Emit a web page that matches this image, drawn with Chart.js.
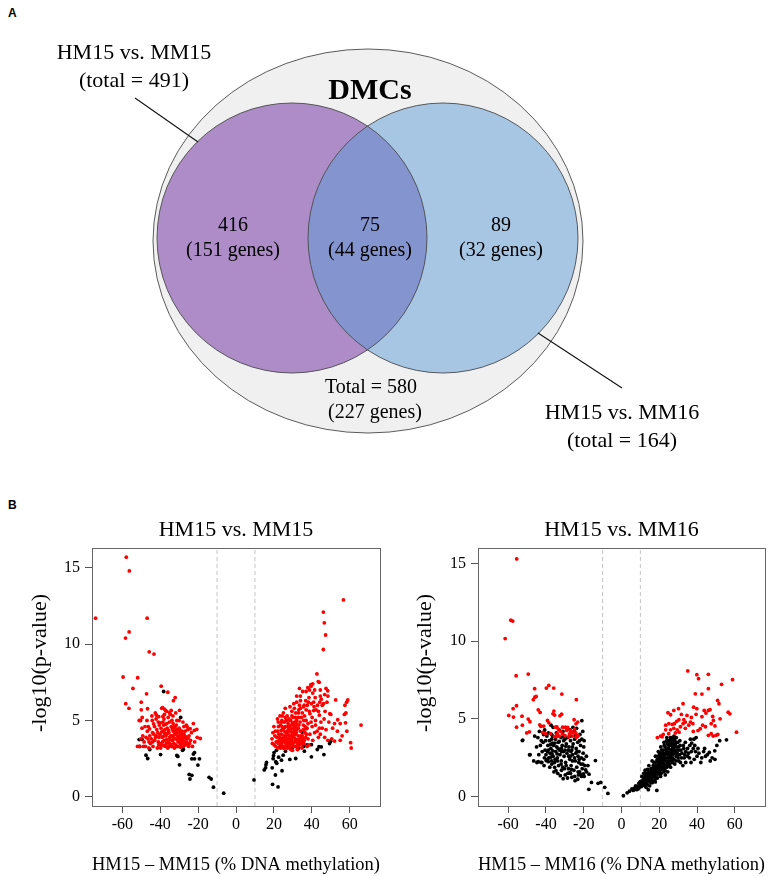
<!DOCTYPE html>
<html>
<head>
<meta charset="utf-8">
<script src="https://cdn.jsdelivr.net/npm/chart.js@4.4.1/dist/chart.umd.min.js"></script>
<style>
  html, body { margin: 0; padding: 0; background: #ffffff; }
  #wrap { position: relative; width: 770px; height: 876px; overflow: hidden; background: #fff; }
  canvas { position: absolute; }
  .panel { position: absolute; font-family: 'Liberation Sans', Arial, sans-serif; font-weight: bold; font-size: 12px; color: #000; }
</style>
</head>
<body>
<div id="wrap">
  <div class="panel" style="left:8px; top:6px;">A</div>
  <div class="panel" style="left:8px; top:498px;">B</div>
  <canvas id="venn" width="770" height="500" style="left:0; top:0;"></canvas>
  <canvas id="left" width="385" height="371" style="left:0; top:505px;"></canvas>
  <canvas id="right" width="385" height="371" style="left:385px; top:505px;"></canvas>
</div>
<script>
// ---------------- DATA ----------------
const vennTitle = 'DMCs';
const vennSetNames = ['HM15 vs. MM15', 'HM15 vs. MM16'];
const vennSetTotals = [491, 164];
const vennRegionCounts = [416, 75, 89];
const vennRegionGenes = [151, 44, 32];
const vennUnionTotal = 580;
const vennUnionGenes = 227;

const plotTitles = ['HM15 vs. MM15', 'HM15 vs. MM16'];
const xAxisLabels = ['HM15 \u2013 MM15 (% DNA methylation)', 'HM15 \u2013 MM16 (% DNA methylation)'];
const yAxisLabel = '-log10(p-value)';
const xTicks = [-60, -40, -20, 0, 20, 40, 60];
const yTicks = [0, 5, 10, 15];
const thresholds = [-10, 10];

// HM15 vs. MM15 : significant (red) points [diff, -log10 p]
const mm15Sig = [
[-74.1,11.7],[-57.9,15.7],[-56.3,14.8],[-56.4,10.8],[-58.3,10.4],[-46.9,11.7],[-45.8,9.5],[-43.3,9.35],[-59.6,7.85],[-51.9,7.8],
[-54.4,7.1],[-39.5,7.25],[-36.0,6.85],[-47.2,6.75],[-58.2,6.1],[-56.5,5.8],[-32.1,6.5],[-33.0,6.3],[-50.0,6.2],
[-50.0,5.7],[-46.7,5.77],[-37.7,5.75],[-37.2,5.65],[-42.6,5.5],[-42.0,5.35],[-44.4,5.3],[-38.6,5.27],[-38.6,4.9],[-34.2,5.66],[-29.8,5.67],
[-34.7,5.4],[-51.1,5.0],[-50.4,5.0],[-46.3,4.6],[-45.6,4.45],[-49.6,4.5],[-43.5,4.78],[-40.0,4.85],[-38.2,4.7],[-36.5,4.8],
[-22.5,4.8],[-24.2,4.46],[-25.5,4.4],[-20.7,4.42],[-18.9,3.82],
[-44,4.2],[-42.5,3.9],[-41.8,4.4],[-41,3.6],[-40.2,4.1],[-39.5,3.4],[-39,3.9],[-38.4,4.3],[-37.8,3.7],[-37.2,3.3],
[-36.9,4.0],[-36.3,4.5],[-35.8,3.6],[-35.4,4.2],[-35.0,3.9],[-34.6,3.4],[-34.2,4.6],[-33.9,4.0],[-33.5,3.7],[-33.1,4.3],
[-32.8,3.5],[-32.4,4.1],[-32.0,3.8],[-31.7,4.4],[-31.3,3.3],[-31.0,4.0],[-30.6,3.6],[-30.2,4.2],[-29.9,3.9],[-29.5,3.5],
[-29.1,4.1],[-28.7,3.7],[-28.3,3.4],[-27.9,3.9],[-27.4,3.6],[-26.9,4.3],[-26.3,3.8],[-25.6,3.5],[-24.8,4.0],[-24.0,3.7],
[-23.0,3.3],[-21.8,3.6],[-20.5,3.9],
[-47.5,3.9],[-46.8,4.3],[-45.2,3.5],[-44.7,3.8],[-43.8,3.3],[-43.0,4.6],[-41.5,3.2],[-40.5,4.7],[-39.8,3.2],[-38.0,5.1],
[-37.5,4.4],[-36.0,3.2],[-35.2,4.9],[-34.0,3.3],[-33.2,4.8],[-32.5,3.2],[-31.5,4.7],[-30.8,3.3],[-30.0,4.5],[-29.3,3.25],
[-28.5,4.3],[-27.8,3.3],[-27.0,3.9],[-26.5,3.4],[-25.8,4.6],[-25.0,3.3],[-48.5,3.6],[-49.2,4.0],[-47.8,3.3],[-46.0,3.2],
[-45.5,4.0],[-52.0,3.3],[-51.0,3.3],[-50.2,3.8],[-44.2,5.0],[-42.2,5.1],[-40.8,5.25],[-39.2,5.8],[-38.8,5.85],[-36.5,5.6],
[-35.8,5.2],[-33.8,5.0],[-31.2,5.0],[-28.0,4.9],[-26.2,4.7],[-23.5,4.2],[-22.0,4.35],[-36.8,3.5],[-34.8,3.75],[-33.6,4.45],
[-32.2,4.55],[-30.4,3.95],[-29.6,4.35],[-28.9,3.85],[-38.8,3.6],[-37.5,4.15],[-40.7,3.9],[-42.9,3.7],[-45.9,3.6],[-48.0,4.6],
[-49.5,5.2],[-47.0,5.0],
[-41.3,4.2],[-40.4,3.5],[-39.6,4.5],[-38.7,3.95],[-38.1,3.35],[-37.3,4.75],[-36.6,3.75],[-35.6,4.35],[-34.9,3.5],[-34.4,4.0],
[-33.7,3.3],[-33.0,3.9],[-32.7,4.6],[-31.9,3.4],[-31.5,4.2],[-30.9,3.75],[-30.3,4.4],[-29.7,3.7],[-29.0,3.4],[-28.6,4.05],
[-28.0,3.6],[-27.5,4.1],[-27.1,3.45],[-26.6,3.95],[-26.0,3.6],[-25.3,3.85],[-24.5,3.5],[-35.5,3.3],[-36.2,4.15],[-37.9,4.0],
[-39.2,4.25],[-40.8,3.4],[-42.1,4.0],[-43.4,4.1],[-44.0,3.6],[-46.5,3.8],[-48.8,3.3],[-33.3,5.3],[-31.8,5.5],[-35.0,5.5],
[-37.8,5.4],[-41.0,4.9],[-30.0,5.0],[-27.5,4.6],
[56.7,12.9],[46.1,12.1],[46.6,11.4],[47.3,10.6],[46.1,9.65],[42.7,8.05],[43.4,7.55],[39.6,7.25],[39.5,7.35],[43.9,7.5],
[48.4,6.95],[47.5,7.1],[46.8,6.7],[37.9,7.15],[37.0,6.9],[32,6.6],[34,6.6],[36.8,6.3],[38.5,6.5],[41,6.2],
[43,6.0],[45,6.4],[48,6.2],[52.6,6.35],[58.4,6.2],[59.0,6.35],[57.5,6.0],[29.5,5.6],[30.8,5.8],[31.5,5.5],
[35,5.5],[37,5.7],[39,5.45],[41,5.65],[42,5.0],[44,5.35],[46.5,5.1],[49.5,5.45],[53.7,5.05],[52,4.8],
[55,4.8],[57.8,4.85],[58,5.5],[57.2,5.4],[66,4.7],[60.5,3.55],[60.8,3.2],[52,3.65],[48.5,3.7],[55,3.7],
[46.8,3.9],[45.5,4.5],[44,4.5],[41.5,4.2],[39,4.1],[38,4.8],[37,5.0],[35.5,4.7],[34.5,5.2],[33,5.5],
[32,5.0],[36,6.0],[33.5,6.0],[30,5.2],[40.5,6.8],[44.5,6.6],[48.5,6.6],
[24.2,5.0],[23.5,4.7],[20,4.6],[19.5,4.2],[19,3.8],[19.2,3.5],[21,3.3],[21.5,3.9],[22,4.3],[22.5,3.5],
[23,3.9],[23.5,3.2],[24,4.1],[24.5,3.6],[25,4.4],[25.3,3.3],[25.7,3.9],[26,4.6],[26.3,3.5],[26.7,4.2],
[27,3.8],[27.3,3.2],[27.6,4.4],[28,3.6],[28.3,4.0],[28.6,3.4],[29,4.7],[29.3,3.8],[29.6,4.2],[30,3.5],
[30.3,4.5],[30.6,3.9],[31,3.3],[31.3,4.1],[31.7,3.7],[32,4.4],[32.3,3.5],[32.8,4.0],[33.2,4.7],[33.6,3.8],
[34,4.3],[34.5,3.6],[35,4.0],[35.5,4.4],[36,3.7],[36.5,4.6],[37.2,4.1],[38,3.8],[26.5,5.0],[28,5.1],
[29.5,5.3],[31,4.9],[27.5,4.8],[25.5,4.9],[24.8,4.45],[23.8,4.35],[22.8,3.7],[26.2,3.15],[28.9,3.1],[30.8,3.6],
[29.8,3.05],[32.5,3.1],[33.5,3.4],[34.8,3.2],[35.8,3.5],[27.8,4.05],[26.8,3.65],[25.8,4.25],[24.6,3.85],[29.1,4.45],
[30.1,4.05],[31.5,4.6],[28.4,4.55],[27.2,4.6],[21.7,3.6],[20.5,4.0],[20.2,3.4],[22.3,4.9],[23.2,5.3],[25,5.5],
[27,5.3],[26,5.8],[28.5,5.9],[30.5,6.1],[32,6.2],[34,6.3],[35.2,6.9],[33.5,7.1],[38.8,7.0],[41.5,7.0],
[40.5,7.4],[44.5,7.0],[45.5,6.0],[47,5.6],[50,5.4],[49,4.9],[51,4.5],[53.5,4.3],[56,4.0],[58.5,4.3],
[50.5,3.8],[47.5,4.4],[43.5,3.9],[40.5,3.7],[38.5,3.4],[37.5,3.3],[42,4.7],[44.8,4.9],[40.2,5.2],[36.2,5.3],
[34,5.8],[33,5.2],[38.2,6.2],[42.2,5.7],
[21.2,3.6],[22.0,3.2],[22.6,4.1],[23.3,3.6],[23.9,3.4],[24.3,4.6],[24.9,3.2],[25.4,4.0],[25.9,3.6],[26.4,4.0],
[26.9,3.4],[27.3,4.3],[27.7,3.5],[28.2,3.8],[28.7,4.3],[29.2,3.5],[29.7,4.0],[30.2,3.3],[30.7,4.3],[31.2,3.8],
[31.8,4.2],[32.3,3.3],[32.9,4.5],[33.4,3.6],[34.2,4.0],[35.2,3.8],[36.3,4.2],[37.5,4.5],[22.4,4.6],[24.1,4.9],
[25.6,4.55],[27.0,5.0],[28.8,5.0],[30.4,4.7],[31.9,4.8],[33.8,4.9],[35.8,5.0],[23.6,3.75],[25.1,3.7],[26.6,3.8],
[28.1,3.25],[29.4,3.65],[30.9,4.1],[32.6,3.75],[34.4,3.45],[36.8,3.9],[27.9,4.6],[29.9,4.85],[31.4,5.2],[26.1,5.2],
[24.4,5.3],[20.8,4.3],[21.9,5.1],[33.1,5.7],[35.7,5.9],[37.6,6.0],[39.8,6.1],[41.8,6.5],[44.2,6.2],[46.2,6.1],
[40.2,4.6],[42.8,4.3],[44.5,4.1],[39.6,4.9],[36.9,4.45],[38.7,5.6],[41.2,5.9],[43.5,5.6]
];
// HM15 vs. MM15 : non-significant (black) points
const mm15NonSig = [
[-38.2,6.9],[-29.2,5.2],[-50.8,3.3],[-49.6,3.77],[-45.5,3.1],[-47.5,2.73],[-46.6,2.51],[-39.8,2.77],[-31.2,2.71],[-29.8,2.1],
[-28.2,3.05],[-27.8,3.12],[-27.7,3.64],[-21.9,2.9],[-23.3,2.49],[-21.9,2.49],[-19.3,2.49],[-20.1,2.08],[-24.7,1.47],[-23.3,1.41],
[-24.3,1.17],[-14.2,1.28],[-13.1,1.17],[-11.9,0.63],[-6.5,0.24],[-51.1,3.75],[-30.7,2.65],[-22.5,2.8],
[9.5,1.11],[15.6,1.9],[15.8,2.1],[16.1,2.25],[14.9,1.76],[19.6,2.5],[19.8,2.7],[20.1,2.9],[19.1,1.9],[21,2.3],
[21.5,2.2],[20.8,1.43],[19.3,0.82],[22.2,0.65],[24.3,1.71],[23.1,3.27],[23.8,3.53],[24,2.4],[24.9,2.73],[26.1,2.99],
[28.4,2.45],[29.8,3.21],[32.4,3.14],[31.5,2.51],[34.7,3.9],[34.5,3.6],[35.7,3.3],[36.1,2.99],[34.9,4.24],[39.8,3.42],
[39.8,2.62],[42.9,3.1],[46.4,2.77],[43.8,3.28],[49.4,3.49],[49.9,3.64],[45,3.27],[22.5,2.6],[21.3,3.05],[25.5,3.2],
[27.5,3.3],[33,3.2],[37.5,3.4]
];
// HM15 vs. MM16 : significant (red) points
const mm16Sig = [
[-55.5,15.3],[-58.6,11.35],[-57.6,11.3],[-61.6,10.17],[-55.8,7.78],[-49.4,7.89],[-38.5,7.16],[-39.8,6.99],[-35.9,6.99],[-46.0,6.95],
[-31.6,6.6],[-45.9,6.4],[-45.2,6.45],[-46.7,6.24],[-23.9,6.24],[-55.6,5.85],[-57.4,5.66],[-59.7,5.23],[-57.2,5.12],[-52.7,5.18],
[-55.6,4.47],[-52.5,4.6],[-49.4,4.99],[-48.5,4.82],[-50.2,4.1],[-48.8,4.17],[-44.1,5.59],[-43.1,5.42],[-43.3,4.62],[-42.7,4.52],
[-41.2,4.54],[-41.7,4.13],[-40.3,4.06],[-39.2,4.9],[-38.5,4.75],[-37.5,4.06],[-36.3,5.33],[-35.8,5.51],[-35.4,5.25],[-35.1,4.47],
[-34.2,4.49],[-34.0,4.06],[-32.6,5.2],[-31.7,5.31],[-31.2,4.47],[-29.8,4.47],[-32.1,4.2],[-31.2,4.02],[-29.0,4.26],[-27.6,4.04],
[-26.9,4.26],[-26.3,4.15],[-25.1,4.95],[-24.1,4.69],[-23.2,4.8],[-25.0,4.1],[-24.2,4.1],[-23.0,3.95],[-24.0,3.83],[-23.3,3.87],
[-35.4,3.87],[-34.2,3.87],[-33.0,3.9],[-30.0,3.95],[-28.0,3.85],[-26.0,3.9],[-33.5,4.35],[-28.5,4.45],[-24.8,4.35],
[35.1,8.09],[39.9,7.85],[40.8,7.59],[46.0,7.87],[58.8,7.53],[53.0,7.23],[46.0,6.95],[39.1,6.62],[42.6,6.6],[32.6,5.98],
[38.2,5.76],[39.9,5.66],[50.9,6.19],[51.6,5.98],[27.7,5.55],[30.2,5.66],[31.7,5.29],[24.6,5.4],[26.0,5.27],[34.7,5.23],
[37.0,5.1],[39.5,5.3],[42.6,5.15],[43.8,5.55],[44.7,5.38],[46,5.55],[46.9,5.6],[48.3,5.16],[48.7,4.9],[52.2,5.01],
[56.5,5.44],[57.4,5.33],[60.9,4.15],[28.0,4.7],[29.2,4.85],[30.4,4.95],[32.6,4.7],[33.0,4.95],[33.8,4.8],[35.6,4.6],
[36.5,4.8],[37.8,4.7],[38.0,4.2],[40.5,4.25],[41.7,4.37],[43.0,4.6],[44.5,4.5],[47.5,4.7],[49.5,4.55],[46.0,3.95],
[47.5,4.05],[48.5,3.9],[50.0,3.95],[51.0,4.0],[23.4,4.6],[25.1,4.7],[26.9,4.65],[19.0,3.8],[20.7,3.9],[22.1,4.0],
[23.4,4.3],[26.0,4.3],[27.7,4.4],[29.5,4.3],[31.2,4.5],[33.8,4.4],[21.5,3.85],[25.0,4.05],[28.5,4.1],[30.5,4.15]
];
// HM15 vs. MM16 : non-significant (black) points
const mm16NonSig = [
[-21.0,4.89],[-25.7,4.46],[-37.3,4.6],[-36.2,4.46],[-40.7,4.29],[-52.3,3.64],[-48.4,2.7],[-52.5,3.61],[-48.7,2.69],[-44.1,2.26],
[-42.7,2.21],[-39.9,2.32],[-39.2,2.4],[-37.5,2.54],[-36.8,2.75],[-35.4,1.89],[-34.7,1.68],[-32.4,1.35],[-30.9,1.16],[-27.4,1.55],
[-26.3,1.25],[-24.6,1.03],[-23.2,1.12],[-20.1,1.46],[-19.0,1.72],[-17.3,0.47],[-13.8,2.32],[-15.9,0.92],[-12.4,0.86],[-11,0.92],
[-8.9,0.6],[-7.2,0.21],
[-44.3,3.8],[-43.0,3.3],[-41.5,3.5],[-43.8,2.7],[-42.2,2.2],[-40.5,3.0],[-39.0,3.3],[-38.2,3.6],[-37.4,3.1],[-36.7,3.45],
[-35.9,3.3],[-35.0,3.7],[-34.3,3.2],[-33.5,3.5],[-32.8,3.0],[-32.0,3.8],[-31.4,3.3],[-30.6,3.6],[-29.9,3.0],[-29.2,3.4],
[-28.5,3.8],[-27.8,3.2],[-27.0,3.6],[-26.3,3.0],[-25.6,3.4],[-24.8,3.7],[-24.0,3.1],[-23.2,3.5],[-22.5,2.9],[-21.7,3.3],
[-21.0,3.7],[-20.3,2.8],
[-40.0,2.7],[-39.2,2.9],[-38.5,2.5],[-37.8,2.8],[-37.0,2.3],[-36.2,2.6],[-35.5,2.2],[-34.8,2.9],[-34.0,2.5],[-33.3,2.0],
[-32.6,2.7],[-31.9,2.3],[-31.1,1.9],[-30.4,2.6],[-29.6,2.2],[-28.9,2.8],[-28.1,1.8],[-27.4,2.4],[-26.7,2.0],[-25.9,2.7],
[-25.2,1.7],[-24.5,2.3],[-23.7,1.9],[-23.0,2.6],[-22.2,1.6],[-21.5,2.1],[-20.8,1.8],[-20.0,2.4],[-19.4,2.0],[-22.8,1.4],
[-21.2,1.3],[-19.8,1.3],[-18.5,1.6],[-17.8,2.0],[-17.2,1.45],
[-45.0,3.2],[-44.8,2.2],[-46.0,3.9],[-43.5,4.2],[-41.2,4.0],[-39.5,3.9],[-37.0,4.0],[-34.5,4.1],[-33.0,4.3],[-31.0,4.2],
[-29.0,4.4],[-27.2,4.3],[-25.0,4.2],[-23.8,4.4],[-22.0,4.0],[-20.5,4.2],[-19.8,3.6],[-41.0,2.0],[-38.0,1.9],[-35.8,1.6],
[-33.8,1.5],[-31.8,1.7],[-29.8,1.4],[-28.6,1.2],[-27.0,1.5],[-30.5,3.9],[-28.0,2.6],[-26.0,2.3],[-24.2,2.8],[-22.6,2.2],
[-36.5,3.9],[-38.7,4.1],[-42.5,3.6],[-46.5,2.3],[-26.8,2.9],[-31.7,2.9],[-33.6,3.1],[-35.2,2.4],[-29.3,2.0],[-18.6,2.6],
[-38.8,3.0],[-37.6,3.35],[-36.4,2.95],[-35.3,3.45],[-34.1,2.75],[-33.0,3.55],[-31.8,3.1],[-30.7,2.9],[-29.5,3.25],[-28.2,3.0],
[-27.1,2.6],[-26.0,3.2],[-24.9,2.5],[-23.6,2.9],[-22.4,2.4],[-21.3,2.5],[-20.5,2.1],[-33.9,2.3],[-32.0,2.1],[-30.2,1.8],
[-28.4,1.5],[-26.5,1.75],[-24.8,1.3],[-23.0,1.6],[-21.8,1.45],[-36.9,2.1],[-38.8,2.25],[-40.8,2.5],[-42.0,2.9],[-40.2,3.6],
[-37.0,3.7],[-34.0,3.9],[-30.0,3.7],[-26.8,3.9],[-24.4,3.95],[-22.2,3.6],[-20.0,3.2],
[1.0,0.06],[4.2,0.35],[5.5,0.5],[6.8,0.55],[7.5,0.7],[8.5,0.65],[9.2,0.85],[10.0,0.8],[10.5,1.0],[11.0,0.7],
[11.5,1.1],[12.0,0.9],[12.3,1.3],[12.8,1.05],[13.2,1.5],[13.6,0.8],[14.0,1.2],[14.3,1.6],[14.2,0.45],[14.8,1.0],
[15.2,1.4],[15.6,1.8],[16.0,1.15],[16.4,1.6],[16.8,2.0],[17.1,1.3],[17.5,1.75],[17.9,2.2],[18.2,1.5],[18.7,0.4],
[18.6,1.9],[19.0,2.4],[19.3,1.6],[19.7,2.1],[20.0,2.6],[20.3,1.8],[20.7,2.3],[21.0,2.8],[21.4,1.9],[21.7,2.5],
[22.1,3.0],[22.4,2.1],[22.8,2.7],[23.1,3.2],[23.5,2.3],[23.8,2.9],[24.2,3.4],[24.5,2.5],[24.9,3.1],[25.3,3.6],
[25.6,2.7],[26.0,3.3],[26.4,3.8],[26.7,2.8],[27.1,3.5],[27.5,3.7],[27.9,3.0],[28.3,3.6],[29.0,3.2],[29.8,3.5],
[30.5,3.0],[13.0,0.6],[15.5,0.9],[17.0,1.0],[16.2,2.3],[18.0,2.6],[19.5,2.9],[20.8,3.2],[22.5,3.5],[24.0,3.8],
[12.5,1.7],[14.5,2.0],[19.0,1.2],[21.0,1.5],[22.5,1.6],[24.0,1.9],[25.5,2.1],[26.5,2.3],[27.8,2.4],[29.0,2.6],
[30.0,2.5],[31.2,2.2],[32.5,2.0],[33.2,2.5],[34.0,2.2],[35.0,2.6],[36.0,2.5],[37.0,2.9],[38.0,3.1],[38.8,3.3],
[39.2,2.9],[40.0,2.6],[41.0,2.8],[42.5,2.5],[43.5,2.9],[44.5,2.6],[45.5,2.7],[46.5,2.85],[48.0,2.5],[49.4,2.95],
[49.5,2.4],[50.5,3.3],[52.0,3.6],[55.6,3.66],[38.3,3.7],[39.5,3.8],[37.2,3.45],[36.2,3.3],[35.0,3.1],[34.0,2.9],
[33.0,3.1],[32.0,2.8],[31.0,3.3],[30.8,2.7],[26.5,3.65],[27.0,3.1],[28.0,3.3],[25.0,2.8],[23.5,2.5],[22.0,2.6],
[21.5,2.7],[20.0,2.0],[19.2,1.8],[18.5,2.0],[17.5,1.5],[16.5,1.3],[15.8,1.55],[15.0,1.2],[14.0,1.05],[13.5,1.1],
[12.0,1.2],[11.0,1.0],[10.5,0.65],[9.5,0.6],[8.0,0.45],[23.0,2.0],[24.8,2.3],[20.5,2.4],[22.0,2.2],[21.8,1.9],
[19.8,1.5],[18.0,1.2],[17.2,2.2],[16.0,1.8],[25.8,2.5],[27.2,2.7],[28.5,2.9],[29.5,2.8],[28.2,2.1],[26.0,1.9],
[24.5,1.6],[23.2,1.4],[29.0,3.8],[27.8,3.9],[11.8,1.5],[10.8,1.3],[13.8,1.75],[17.8,1.7],[20.2,2.8],[22.6,3.3],
[25.0,3.5],[26.2,3.0],[27.6,3.2],
[12.2,0.75],[13.4,1.35],[14.6,1.3],[15.3,1.65],[15.9,1.05],[16.6,1.5],[17.3,1.9],[17.7,1.1],[18.3,1.75],[18.8,2.3],
[19.1,1.45],[19.6,2.25],[20.1,1.7],[20.6,2.05],[20.9,2.6],[21.3,2.2],[21.9,2.35],[22.2,2.8],[22.7,2.45],[23.3,2.75],
[23.7,3.05],[24.1,2.2],[24.6,2.7],[25.1,3.3],[25.5,2.9],[26.1,2.6],[26.6,3.4],[27.3,2.9],[27.7,3.35],[28.6,3.4],
[29.3,3.0],[30.2,3.2],[31.5,3.0],[32.7,3.3],[14.9,0.7],[16.3,0.9],[17.6,1.35],[18.9,1.65],[20.4,1.55],[21.6,1.75],
[23.0,1.7],[24.4,2.0],[25.7,2.3],[27.0,2.5],[28.8,2.3],[30.3,2.3],[31.8,2.5],[33.5,2.7],[35.5,2.8],[36.8,2.2],
[38.5,2.4],[40.5,3.1],[42.0,2.2],[44.0,3.1],[47.0,2.3],[13.0,0.9],[11.3,0.85],[9.8,0.95],[8.8,0.5],[6.2,0.4],
[3.0,0.25],[12.8,1.4],[14.4,1.45],[16.7,1.75],[19.4,2.6],[21.2,3.0],[23.9,3.6],[25.9,3.8],[27.3,3.7],[26.9,2.2],
[25.2,2.0],[22.9,1.85],[20.7,1.3],[17.9,0.95],[28.0,2.8],[30.9,3.6],[33.8,3.5],[36.5,3.7]
];

// ---------------- LAYOUT / STYLE ----------------
const SERIF = "'Liberation Serif', 'Times New Roman', Times, serif";
Chart.defaults.font.family = SERIF;
Chart.defaults.color = '#000';

const vennLayout = {
  outer: { cx: 368, cy: 241, rx: 215, ry: 192 },
  left:  { cx: 292, cy: 238, r: 135 },
  right: { cx: 443, cy: 238, r: 135 },
  title: { x: 370, y: 91 },
  regions: [ { x: 233, y: 226 }, { x: 370, y: 226 }, { x: 501, y: 226 } ],
  union: { x: 371, y: 388 },
  setLabels: [ { x: 134, y: 53, line: [135, 98, 198, 142] }, { x: 622, y: 413, line: [538, 333, 622, 388] } ],
  colors: { outer: '#f0f0f0', left: '#ad8cc7', right: '#a7c6e4', overlap: '#8494ce', stroke: '#4a4a4a' }
};

const vennPlugin = {
  id: 'venn',
  afterDraw(chart) {
    const ctx = chart.ctx, xs = chart.scales.x, ys = chart.scales.y, L = vennLayout;
    const px = v => xs.getPixelForValue(v), py = v => ys.getPixelForValue(v);
    const dx = r => Math.abs(xs.getPixelForValue(r) - xs.getPixelForValue(0));
    const dy = r => Math.abs(ys.getPixelForValue(r) - ys.getPixelForValue(0));
    ctx.save();
    ctx.lineWidth = 0.9;
    ctx.strokeStyle = L.colors.stroke;
    ctx.beginPath();
    ctx.ellipse(px(L.outer.cx), py(L.outer.cy), dx(L.outer.rx), dy(L.outer.ry), 0, 0, Math.PI * 2);
    ctx.fillStyle = L.colors.outer; ctx.fill(); ctx.stroke();
    const circ = c => { ctx.beginPath(); ctx.ellipse(px(c.cx), py(c.cy), dx(c.r), dy(c.r), 0, 0, Math.PI * 2); };
    circ(L.left); ctx.fillStyle = L.colors.left; ctx.fill();
    circ(L.right); ctx.fillStyle = L.colors.right; ctx.fill();
    ctx.save(); circ(L.left); ctx.clip(); circ(L.right); ctx.fillStyle = L.colors.overlap; ctx.fill(); ctx.restore();
    circ(L.left); ctx.stroke();
    circ(L.right); ctx.stroke();
    ctx.lineWidth = 1.1; ctx.strokeStyle = '#111';
    L.setLabels.forEach(s => {
      ctx.beginPath(); ctx.moveTo(px(s.line[0]), py(s.line[1])); ctx.lineTo(px(s.line[2]), py(s.line[3])); ctx.stroke();
    });
    ctx.fillStyle = '#000'; ctx.textAlign = 'center'; ctx.textBaseline = 'middle';
    ctx.font = 'bold 30px ' + SERIF;
    ctx.fillText(vennTitle, px(L.title.x), py(L.title.y));
    ctx.font = '20px ' + SERIF;
    L.regions.forEach((r, i) => {
      ctx.fillText(String(vennRegionCounts[i]), px(r.x), py(r.y));
      ctx.fillText('(' + vennRegionGenes[i] + ' genes)', px(r.x), py(r.y + 25));
    });
    ctx.fillText('Total = ' + vennUnionTotal, px(L.union.x), py(L.union.y));
    ctx.fillText('(' + vennUnionGenes + ' genes)', px(L.union.x + 4), py(L.union.y + 25));
    ctx.font = '22px ' + SERIF;
    L.setLabels.forEach((s, i) => {
      ctx.fillText(vennSetNames[i], px(s.x), py(s.y));
      ctx.fillText('(total = ' + vennSetTotals[i] + ')', px(s.x), py(s.y + 28));
    });
    ctx.restore();
  }
};

new Chart(document.getElementById('venn'), {
  type: 'scatter',
  data: { datasets: [{ data: [], pointRadius: 0 }] },
  options: {
    responsive: false, animation: false, devicePixelRatio: 1,
    layout: { padding: 0 },
    plugins: { legend: { display: false }, tooltip: { enabled: false } },
    scales: {
      x: { type: 'linear', min: 0, max: 770, display: false },
      y: { type: 'linear', min: 0, max: 500, reverse: true, display: false }
    }
  },
  plugins: [vennPlugin]
});

// box around the plotting region + y-axis label (R-style placement)
const boxPlugin = {
  id: 'box',
  afterDraw(chart) {
    const a = chart.chartArea, ctx = chart.ctx;
    ctx.save();
    ctx.strokeStyle = '#666'; ctx.lineWidth = 1;
    ctx.strokeRect(Math.round(a.left) + 0.5, Math.round(a.top) + 0.5, Math.round(a.right - a.left), Math.round(a.bottom - a.top));
    ctx.translate(40, (a.top + a.bottom) / 2 - 14);
    ctx.rotate(-Math.PI / 2);
    ctx.fillStyle = '#000'; ctx.textAlign = 'center'; ctx.textBaseline = 'middle';
    ctx.font = '22px ' + SERIF;
    ctx.fillText(yAxisLabel, 0, 0);
    ctx.restore();
  }
};

function volcano(id, idx, sig, nonsig, yMax, yAxisWidth) {
  const yMin = -0.6;
  const threshSets = thresholds.map(t => ({
    type: 'line',
    data: [{ x: t, y: yMin }, { x: t, y: yMax }],
    borderColor: '#c4c4c4', borderWidth: 1, borderDash: [4, 3],
    pointRadius: 0, fill: false
  }));
  new Chart(document.getElementById(id), {
    type: 'scatter',
    data: {
      datasets: [
        { data: sig.map(p => ({ x: p[0], y: p[1] })), backgroundColor: '#ff0000', borderWidth: 0, pointRadius: 1.9 },
        { data: nonsig.map(p => ({ x: p[0], y: p[1] })), backgroundColor: '#000000', borderWidth: 0, pointRadius: 1.9 },
        ...threshSets
      ]
    },
    options: {
      responsive: false, animation: false, devicePixelRatio: 1,
      layout: { padding: { left: 0, right: 5, top: 0, bottom: 0 } },
      plugins: { legend: { display: false }, tooltip: { enabled: false } },
      scales: {
        x: {
          type: 'linear', position: 'bottom', min: -76, max: 76,
          afterBuildTicks: s => { s.ticks = xTicks.map(v => ({ value: v })); },
          afterFit: s => { s.height = 70; },
          grid: { drawOnChartArea: false, drawTicks: true, tickLength: 7, color: '#555' },
          border: { display: true, color: '#666' },
          ticks: { font: { size: 16 }, color: '#000', padding: 2, maxRotation: 0, autoSkip: false },
          title: { display: true, text: xAxisLabels[idx], font: { size: 19 }, color: '#000', padding: { top: 0, bottom: 0 } }
        },
        x2: {
          type: 'linear', position: 'top', min: -76, max: 76,
          afterFit: s => { s.height = 43; },
          grid: { display: false }, border: { display: false },
          ticks: { display: false },
          title: { display: true, text: plotTitles[idx], font: { size: 22 }, color: '#000', padding: { top: 12, bottom: 0 } }
        },
        y: {
          type: 'linear', position: 'left', min: yMin, max: yMax,
          afterBuildTicks: s => { s.ticks = yTicks.map(v => ({ value: v })); },
          afterFit: s => { s.width = yAxisWidth; },
          grid: { drawOnChartArea: false, drawTicks: true, tickLength: 7, color: '#555' },
          border: { display: true, color: '#666' },
          ticks: { font: { size: 16 }, color: '#000', padding: 5 },
          title: { display: false }
        }
      }
    },
    plugins: [boxPlugin]
  });
}

volcano('left', 0, mm15Sig, mm15NonSig, 16.3, 92);
volcano('right', 1, mm16Sig, mm16NonSig, 16.0, 93);
</script>
</body>
</html>
